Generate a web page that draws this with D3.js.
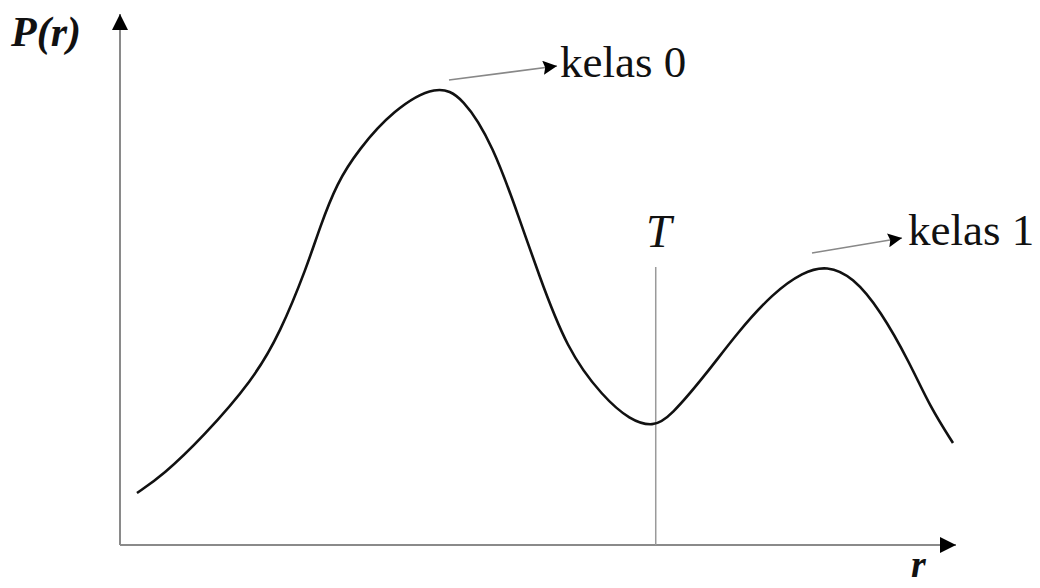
<!DOCTYPE html>
<html>
<head>
<meta charset="utf-8">
<script src="https://cdn.jsdelivr.net/npm/d3@7"></script>
<style>
  html, body { margin: 0; padding: 0; background: #fff; }
  svg { display: block; }
  text { font-family: "Liberation Serif", "Times New Roman", serif; fill: #111; }
</style>
</head>
<body>
<svg id="chart" width="1040" height="588"></svg>
<script>
// Gray level r (0..255) and histogram height P(r), arbitrary units
const grayLevels = [5.2, 13.2, 25.4, 40.7, 49.0, 57.2, 61.2, 66.4, 72.9, 83.6, 97.0, 105.0, 114.2, 122.4,
                    127.7, 136.8, 147.9, 156.1, 163.2, 168.4, 179.7, 188.9, 199.9, 209.1, 216.4, 224.4,
                    232.7, 241.8, 248.0, 255];
const histValues = [10.4, 14, 21.6, 33, 42.4, 55.6, 63.6, 72.4, 79, 87, 92.2, 89.6, 80, 65,
                    55, 39, 29.6, 25, 23.6, 25.6, 34.4, 42.4, 50.4, 54.6, 55.9, 53.6,
                    47, 36.4, 27.6, 20.4];
const threshold = 164;
const classLabels = ["kelas 0", "kelas 1"];

const svg = d3.select("#chart");
const x = d3.scaleLinear().domain([0, 255]).range([120, 953]);
const y = d3.scaleLinear().domain([0, 100]).range([545, 45]);

const axisColor = "#8a8a8a";

// arrowheads
const defs = svg.append("defs");
defs.append("marker")
  .attr("id", "head").attr("viewBox", "0 0 10 10")
  .attr("refX", 10).attr("refY", 5)
  .attr("markerWidth", 26).attr("markerHeight", 16)
  .attr("markerUnits", "userSpaceOnUse")
  .attr("orient", "auto")
  .append("path").attr("d", "M0,0 L10,5 L0,10 Z").attr("fill", "#000");
defs.append("marker")
  .attr("id", "smallhead").attr("viewBox", "0 0 10 10")
  .attr("refX", 10).attr("refY", 5)
  .attr("markerWidth", 26).attr("markerHeight", 14)
  .attr("markerUnits", "userSpaceOnUse")
  .attr("orient", "auto")
  .append("path").attr("d", "M0,0 L10,5 L0,10 L1.5,5 Z").attr("fill", "#000");

// axes
svg.append("line")
  .attr("x1", x(0)).attr("y1", y(0)).attr("x2", x(0)).attr("y2", 14)
  .attr("stroke", axisColor).attr("stroke-width", 2)
  .attr("marker-end", "url(#head)");
svg.append("line")
  .attr("x1", x(0)).attr("y1", y(0)).attr("x2", 956).attr("y2", y(0))
  .attr("stroke", axisColor).attr("stroke-width", 2)
  .attr("marker-end", "url(#head)");

// threshold line
svg.append("line")
  .attr("x1", x(threshold)).attr("x2", x(threshold))
  .attr("y1", 267).attr("y2", y(0))
  .attr("stroke", "#9a9a9a").attr("stroke-width", 1.5);
svg.append("text")
  .attr("x", x(threshold) + 3).attr("y", 247)
  .attr("text-anchor", "middle")
  .attr("font-size", 46).attr("font-style", "italic")
  .text("T");

// histogram curve
const line = d3.line()
  .x((d, i) => x(grayLevels[i]))
  .y(d => y(d))
  .curve(d3.curveBasis);
svg.append("path")
  .datum(histValues)
  .attr("d", line)
  .attr("fill", "none")
  .attr("stroke", "#111")
  .attr("stroke-width", 2.6);

// class labels with pointer arrows
const pointers = [
  { from: [449, 80], to: [557, 66], tx: 560, ty: 77 },
  { from: [812, 253], to: [902, 238], tx: 908, ty: 245 }
];
pointers.forEach((p, i) => {
  svg.append("line")
    .attr("x1", p.from[0]).attr("y1", p.from[1])
    .attr("x2", p.to[0]).attr("y2", p.to[1])
    .attr("stroke", "#888").attr("stroke-width", 1.6)
    .attr("marker-end", "url(#smallhead)");
  svg.append("text")
    .attr("x", p.tx).attr("y", p.ty)
    .attr("font-size", 45)
    .text(classLabels[i]);
});

// axis labels
svg.append("text")
  .attr("x", 11).attr("y", 46)
  .attr("font-size", 42).attr("font-style", "italic").attr("font-weight", "bold")
  .text("P(r)");
svg.append("text")
  .attr("x", 911).attr("y", 577)
  .attr("font-size", 38).attr("font-style", "italic").attr("font-weight", "bold")
  .text("r");
</script>
</body>
</html>
